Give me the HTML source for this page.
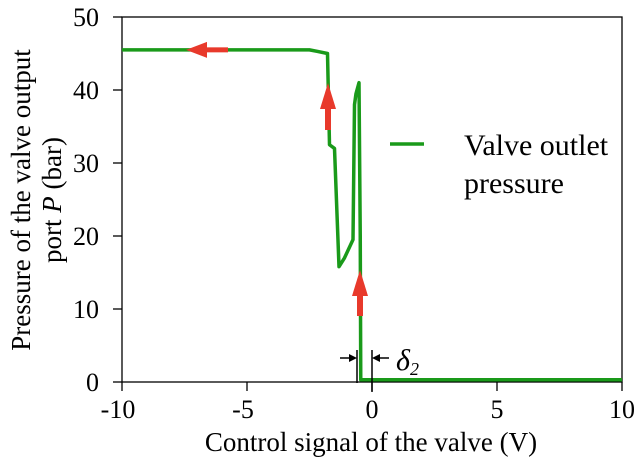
<!DOCTYPE html>
<html><head><meta charset="utf-8"><style>
body{margin:0;background:#fff}
svg text{font-family:"Liberation Serif",serif;fill:#000}
</style></head><body>
<svg width="637" height="463" viewBox="0 0 637 463">
<g id="axes"></g>
<polyline id="series" fill="none" stroke="#1a9a1a" stroke-width="3.5" stroke-linejoin="round"/>
<g id="arrows"></g>
<g>
<line x1="390" y1="144" x2="424" y2="144" stroke="#1a9a1a" stroke-width="3.5"/>
<text x="464" y="155" font-size="30">Valve outlet</text>
<text x="464" y="193" font-size="30">pressure</text>
</g>
<g>
<line x1="357" y1="350" x2="357" y2="383" stroke="#000" stroke-width="1.5"/>
<line x1="372" y1="350" x2="372" y2="392" stroke="#000" stroke-width="1.5"/>
<line x1="340" y1="358" x2="355" y2="358" stroke="#000" stroke-width="1.5"/>
<polygon points="357,358 349,354 349,362" fill="#000"/>
<line x1="374" y1="358" x2="389" y2="358" stroke="#000" stroke-width="1.5"/>
<polygon points="372,358 380,354 380,362" fill="#000"/>
<text x="396" y="370" font-size="30" font-style="italic">δ<tspan font-size="18" dy="5">2</tspan></text>
</g>
<text x="371" y="451" font-size="27" text-anchor="middle">Control signal of the valve (V)</text>
<text transform="translate(30,200) rotate(-90)" font-size="27" text-anchor="middle">Pressure of the valve output</text>
<text transform="translate(61,200) rotate(-90)" font-size="27" text-anchor="middle">port <tspan font-style="italic">P</tspan> (bar)</text>
</svg>
<script>
const xTicks=[-10,-5,0,5,10];
const yTicks=[0,10,20,30,40,50];
const xs=[-10,-2.5,-2.2,-1.78,-1.7,-1.5,-1.32,-1.1,-0.76,-0.7,-0.64,-0.52,-0.47,-0.45,-0.3,10];
const ys=[45.5,45.5,45.3,45,32.5,32,15.8,17,19.5,38,39.5,41,20,0.3,0.3,0.3];
const X=v=>122+(v+10)*25, Y=v=>382-v*7.3;
const NS="http://www.w3.org/2000/svg";
const ax=document.getElementById('axes');
function mk(t,a,p){const e=document.createElementNS(NS,t);for(const k in a)e.setAttribute(k,a[k]);(p||ax).appendChild(e);return e;}
const fr=mk('rect',{x:122,y:17,width:500,height:365,fill:'none',stroke:'#000','stroke-width':1.3});


xTicks.forEach(v=>{mk('line',{x1:X(v),x2:X(v),y1:382,y2:391,stroke:'#000','stroke-width':1.3});
const t=mk('text',{x:X(v)-(v<0?4:0),y:418,'font-size':26,'text-anchor':'middle'});t.textContent=v;

});
yTicks.forEach(v=>{mk('line',{x1:113,x2:122,y1:Y(v),y2:Y(v),stroke:'#000','stroke-width':1.3});
const t=mk('text',{x:99,y:Y(v)+9,'font-size':26,'text-anchor':'end'});t.textContent=v;

});
document.getElementById('series').setAttribute('points',xs.map((x,i)=>X(x)+','+Y(ys[i])).join(' '));
const ar=document.getElementById('arrows');
const red='#e8392b';
mk('rect',{x:203,y:Y(45.5)-2.5,width:25,height:5,fill:red},ar);
mk('polygon',{points:`${186},${Y(45.5)} ${207},${Y(45.5)-8} ${207},${Y(45.5)+8}`,fill:red},ar);
[[328,130,83],[360,316,270]].forEach(a=>{mk('rect',{x:a[0]-3,y:a[2]+22,width:6,height:a[1]-a[2]-22,fill:red},ar);
mk('polygon',{points:`${a[0]},${a[2]} ${a[0]-8},${a[2]+26} ${a[0]+8},${a[2]+26}`,fill:red},ar);});
</script>
</body></html>
